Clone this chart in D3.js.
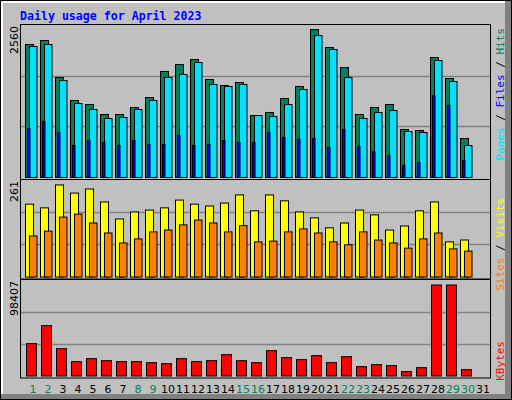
<!DOCTYPE html>
<html><head><meta charset="utf-8">
<script src="https://cdn.jsdelivr.net/npm/d3@7"></script>
<style>body{margin:0;background:#fff}</style>
</head><body>
<svg id="chart" width="512" height="400"></svg>
<script>
var days = d3.range(1, 32);
var weekend = [1, 2, 8, 9, 15, 16, 22, 23, 29, 30];
var hits = [2240,2307,1684,1297,1229,1061,1061,1179,1347,1785,1903,1987,1650,1549,1600,1044,1095,1330,1532,2492,2189,1852,1061,1179,1229,808,791,2021,1667,657];
var files = [2206,2240,1633,1246,1145,994,1010,1145,1297,1684,1735,1937,1566,1532,1566,1044,1027,1229,1482,2391,2156,1684,994,1095,1128,775,758,1970,1617,539];
var pages = [825,943,758,539,623,589,539,623,556,556,707,539,556,623,589,589,758,674,640,657,505,808,522,438,370,202,253,1381,1212,286];
var visits = [197,187,249,227,238,203,157,176,181,187,208,197,192,200,222,179,222,206,176,160,133,146,181,168,127,138,179,203,95,100];
var sites = [111,124,162,170,146,119,92,103,122,127,141,154,146,122,139,95,97,122,130,119,95,87,122,100,92,78,103,119,76,70];
var kbytes = [34965,54430,29560,15500,18750,16580,15500,15500,14420,13340,18750,15500,16580,23070,16580,14420,27400,19830,17660,21990,14420,20910,10090,12260,11180,4690,9010,98407,98407,6850];
var maxHits = 2560, maxVisits = 261, maxKB = 98407;

var svg = d3.select("#chart");
var mono = "DejaVu Sans Mono";

// frame
svg.append("rect").attr("width", 512).attr("height", 400).attr("fill", "#000");
svg.append("rect").attr("x", 1).attr("y", 1).attr("width", 510).attr("height", 398).attr("fill", "#808080");
svg.append("rect").attr("x", 1).attr("y", 1).attr("width", 504).attr("height", 393).attr("fill", "#fff");
svg.append("rect").attr("x", 3).attr("y", 3).attr("width", 502).attr("height", 391).attr("fill", "#C0C0C0");

svg.append("text").attr("x", 20).attr("y", 20).text("Daily usage for April 2023")
  .attr("font-family", mono).attr("font-weight", "bold").attr("font-size", 11.6).attr("fill", "#0000FF");

var x = d3.scaleLinear().domain([1, 2]).range([25, 40]);

var panels = [
  {top: 25, bottom: 177, frameTop: 24, frameBottom: 179},
  {top: 180, bottom: 276.5, frameTop: 179, frameBottom: 278.5},
  {top: 284, bottom: 376, frameTop: 279, frameBottom: 377.5}
];
panels.forEach(function(p) {
  svg.append("rect").attr("x", 20.5).attr("y", p.frameTop + 0.5).attr("width", 470)
    .attr("height", p.frameBottom - p.frameTop).attr("fill", "#C0C0C0").attr("stroke", "#000");
});

function grid(y0, y1) {
  [1 / 3, 2 / 3].forEach(function(f) {
    var y = Math.round(y0 - (y0 - y1) * f) + 0.5;
    svg.append("line").attr("x1", 21).attr("x2", 490).attr("y1", y).attr("y2", y)
      .attr("stroke", "#808080").attr("stroke-width", 1.5);
  });
}

function bars(data, y, dx, w, color) {
  svg.append("g").selectAll("rect").data(data).enter().append("rect")
    .attr("x", function(d, i) { return x(i + 1) + dx + 0.5; })
    .attr("y", function(d) { return y(d) + 0.5; })
    .attr("width", w)
    .attr("height", function(d) { return y(0) - y(d); })
    .attr("fill", color).attr("stroke", "#000");
}

var yTop = d3.scaleLinear().domain([0, maxHits]).range([177, 25]);
grid(177, 25);
bars(hits, yTop, 0, 8, "#00805C");
bars(files, yTop, 4, 7.5, "#00E0FF");
bars(pages, yTop, 2, 2.5, "#0000FF");

var yMid = d3.scaleLinear().domain([0, maxVisits]).range([276.5, 180]);
grid(276.5, 180);
bars(visits, yMid, 0, 8, "#FFFF00");
bars(sites, yMid, 4, 7.5, "#FF8000");

var yBot = d3.scaleLinear().domain([0, maxKB]).range([375.5, 284.5]);
grid(375.5, 280);
bars(kbytes, yBot, 1, 10, "#FF0000");

// left max labels
[[2560, 26], [261, 181], [98407, 281]].forEach(function(l) {
  svg.append("text").attr("transform", "translate(18," + l[1] + ") rotate(-90)")
    .attr("text-anchor", "end").attr("font-family", "DejaVu Sans").attr("font-size", 11)
    .text(l[0]);
});

// day labels
svg.append("g").selectAll("text").data(days).enter().append("text")
  .attr("x", function(d) { return x(d) + 8; }).attr("y", 393)
  .attr("text-anchor", "middle").attr("font-family", "DejaVu Sans").attr("font-size", 11)
  .attr("fill", function(d) { return weekend.indexOf(d) >= 0 ? "#00805C" : "#000"; })
  .text(function(d) { return d; });

// right legends
function legend(parts, yEnd) {
  var t = svg.append("text").attr("transform", "translate(504," + yEnd + ") rotate(-90)")
    .attr("text-anchor", "end").attr("font-family", mono).attr("font-size", 11);
  parts.forEach(function(p) { t.append("tspan").attr("fill", p[1]).text(p[0]); });
}
legend([["Pages", "#00E0FF"], [" / ", "#000"], ["Files", "#0000FF"], [" / ", "#000"], ["Hits", "#00805C"]], 28);
legend([["Sites", "#FF8000"], [" / ", "#000"], ["Visits", "#FFFF00"]], 198);
legend([["KBytes", "#FF0000"]], 341);
</script>
</body></html>
